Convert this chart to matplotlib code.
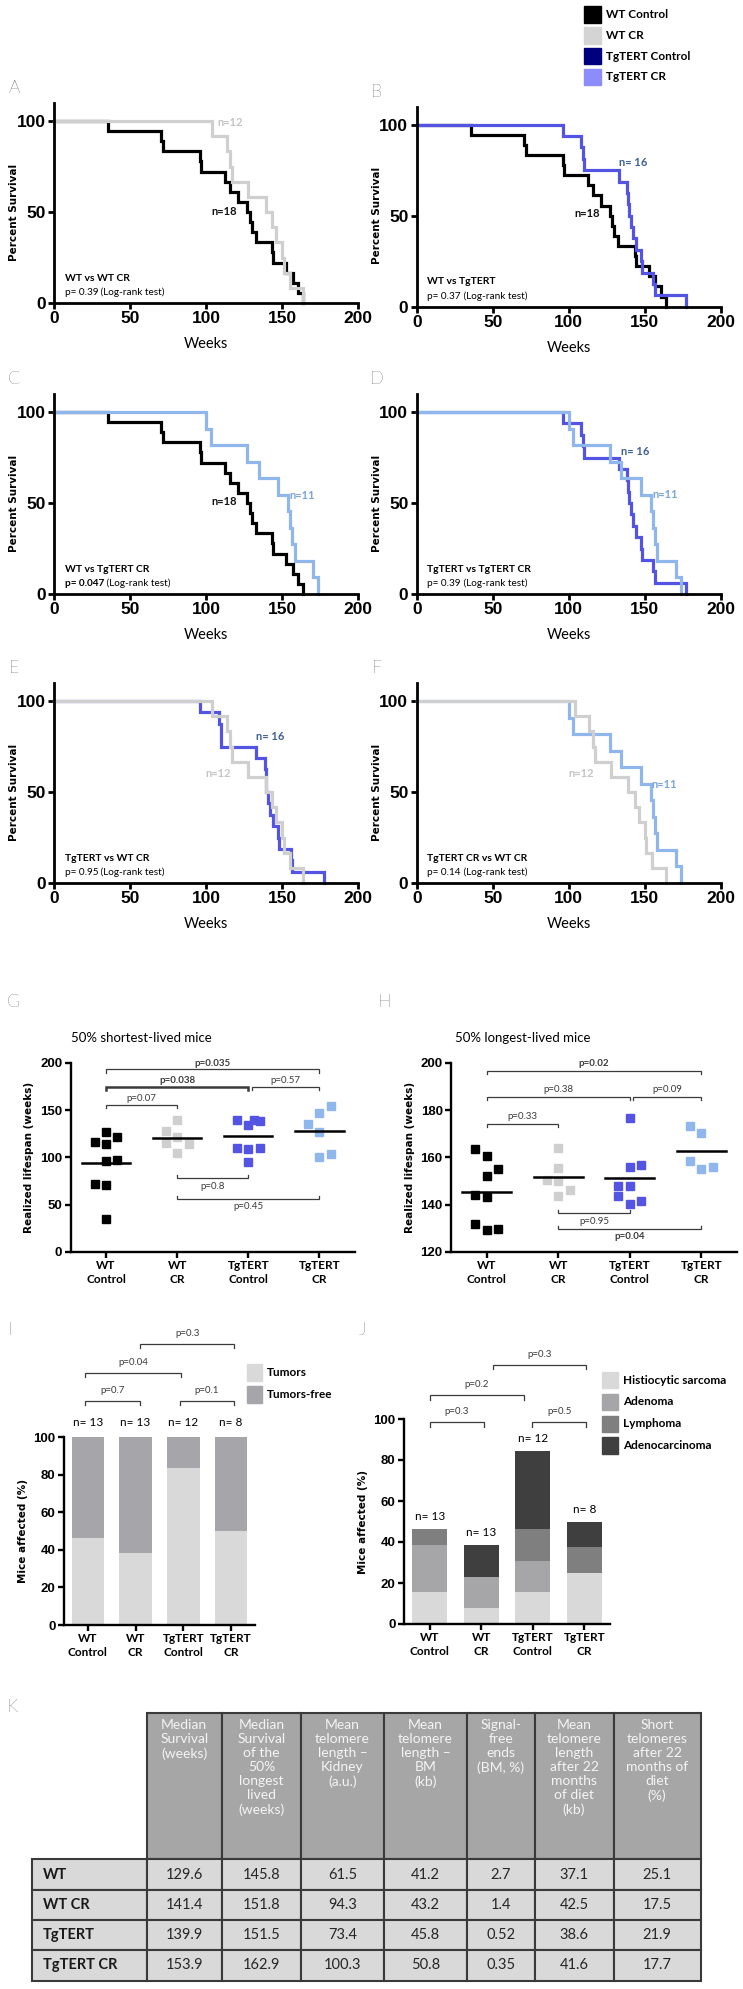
import matplotlib
matplotlib.use('Agg')
import numpy as np
import matplotlib.pyplot as plt
from matplotlib.patches import Rectangle

plt.rcParams['font.family'] = ['Liberation Sans', 'DejaVu Sans']
CAL = ['Lato', 'DejaVu Sans']
VER = ['DejaVu Sans']

# ---------------- data ----------------
# weeks at death, read off the Kaplan-Meier steps
wt_ctrl_weeks = [35.7, 70.3, 71.9, 96.0, 96.8, 112.4, 115.7, 121.0, 127.0,
                 128.8, 130.0, 132.7, 143.5, 144.0, 152.9, 157.0, 160.6, 163.9]
wt_cr_weeks = [104.0, 113.5, 116.0, 117.4, 127.7, 139.3, 143.5, 146.3,
               150.3, 151.0, 155.0, 164.0]
tg_ctrl_weeks = [96.0, 108.4, 109.6, 109.9, 133.0, 138.5, 139.3, 139.8, 141.0,
                 142.4, 144.0, 147.5, 148.0, 155.6, 156.5, 177.4]
tg_cr_weeks = [100.3, 103.0, 127.0, 134.7, 147.4, 154.0, 155.5, 156.6, 158.4,
               170.4, 173.7]

km_compare = ['WT vs WT CR', 'WT vs TgTERT', 'WT vs TgTERT CR',
              'TgTERT vs TgTERT CR', 'TgTERT vs WT CR', 'TgTERT CR vs WT CR']
km_pvals = ['p= 0.39', 'p= 0.37', 'p= 0.047', 'p= 0.39', 'p= 0.95', 'p= 0.14']

groups = ['WT\nControl', 'WT\nCR', 'TgTERT\nControl', 'TgTERT\nCR']

# G: 50% shortest-lived mice (weeks)
short_wt_ctrl = [127.2, 115.9, 113.8, 121.6, 96.0, 97.2, 71.7, 70.7, 35.3]
short_wt_cr = [139.6, 127.9, 121.2, 114.8, 113.8, 104.9]
short_tg_ctrl = [139.6, 134.3, 139.6, 138.9, 110.2, 108.5, 110.2, 95.4]
short_tg_cr = [154.4, 147.3, 135.3, 126.5, 100.0, 103.5]
# H: 50% longest-lived mice (weeks)
long_wt_ctrl = [163.6, 160.7, 155.1, 152.3, 143.9, 143.2, 131.7, 129.4, 129.8]
long_wt_cr = [163.8, 155.4, 150.5, 149.9, 146.0, 143.5]
long_tg_ctrl = [176.6, 155.8, 156.8, 147.7, 147.7, 143.5, 140.1, 141.5]
long_tg_cr = [173.4, 170.2, 158.4, 155.1, 156.1]

# I: tumour incidence (%)
n_mice = [13, 13, 12, 8]
tumors_pct = [46.2, 38.5, 83.3, 50.0]

# J: tumour types (%)
histio_pct = [15.4, 7.7, 15.4, 25.0]
adenoma_pct = [23.1, 15.4, 15.4, 0.0]
lymphoma_pct = [7.7, 0.0, 15.4, 12.5]
adenocarc_pct = [0.0, 15.4, 38.4, 12.5]

# K: table
tab_header = ['Median\nSurvival\n(weeks)',
              'Median\nSurvival\nof the\n50%\nlongest\nlived\n(weeks)',
              'Mean\ntelomere\nlength \u2013\nKidney\n(a.u.)',
              'Mean\ntelomere\nlength \u2013\nBM\n(kb)',
              'Signal-\nfree\nends\n(BM, %)',
              'Mean\ntelomere\nlength\nafter 22\nmonths\nof diet\n(kb)',
              'Short\ntelomeres\nafter 22\nmonths of\ndiet\n(%)']
tab_rows = ['WT', 'WT CR', 'TgTERT', 'TgTERT CR']
tab_vals = [['129.6', '145.8', '61.5', '41.2', '2.7', '37.1', '25.1'],
            ['141.4', '151.8', '94.3', '43.2', '1.4', '42.5', '17.5'],
            ['139.9', '151.5', '73.4', '45.8', '0.52', '38.6', '21.9'],
            ['153.9', '162.9', '100.3', '50.8', '0.35', '41.6', '17.7']]

# ---------------- styling ----------------
C_WT, C_WTCR, C_TG, C_TGCR = 'black', '#cfcfcf', '#5353e4', '#8fb7ec'
W, H = 743, 1989
fig = plt.figure(figsize=(W / 100, H / 100), dpi=100)

ov = fig.add_axes([0, 0, 1, 1])
ov.set_xlim(0, W)
ov.set_ylim(H, 0)
ov.axis('off')


def px_axes(x0, x1, ytop, ybot):
    return fig.add_axes([x0 / W, 1 - ybot / H, (x1 - x0) / W, (ybot - ytop) / H])


def style(ax, lw=2.0):
    for s in ['top', 'right']:
        ax.spines[s].set_visible(False)
    for s in ['left', 'bottom']:
        ax.spines[s].set_linewidth(lw)
    ax.patch.set_alpha(0)


def km(ax, weeks, color):
    t = sorted(weeks)
    n = len(t)
    xs = [0] + t
    ys = [100] + [100.0 * (n - i - 1) / n for i in range(n)]
    ax.step(xs, ys, where='post', color=color, lw=2.3, clip_on=False,
            solid_joinstyle='miter')


# ---------------- legend (top right) ----------------
for i, (lab, col) in enumerate(zip(['WT Control', 'WT CR', 'TgTERT Control', 'TgTERT CR'],
                                   ['black', '#d4d4d4', '#00007f', '#8c8cfc'])):
    yc = 14.5 + i * 20.8
    ov.add_patch(Rectangle((584, yc - 8.3), 16.5, 16.5, color=col))
    ov.text(606, yc, lab, family=CAL, weight='bold', fontsize=8.5, va='center')

# ---------------- Kaplan-Meier panels ----------------
series = {'WT': (wt_ctrl_weeks, C_WT), 'WTCR': (wt_cr_weeks, C_WTCR),
          'TG': (tg_ctrl_weeks, C_TG), 'TGCR': (tg_cr_weeks, C_TGCR)}
km_pairs = [('WT', 'WTCR'), ('WT', 'TG'), ('WT', 'TGCR'),
            ('TG', 'TGCR'), ('TG', 'WTCR'), ('TGCR', 'WTCR')]
n_labels = {'WT': ('n=18', '#111111'), 'WTCR': ('n=12', '#c4c4c4'),
            'TG': ('n= 16', '#3f5f95'), 'TGCR': ('n=11', '#79a4dd')}
n_pos = [{'WTCR': (116, 99), 'WT': (112, 50.5)},
         {'TG': (142.5, 79), 'WT': (112, 51.3)},
         {'WT': (112, 50.7), 'TGCR': (163, 54)},
         {'TG': (143.7, 78.2), 'TGCR': (163.4, 54.4)},
         {'TG': (142, 80.4), 'WTCR': (108, 60)},
         {'WTCR': (108.5, 60), 'TGCR': (163, 54)}]
letters = 'ABCDEF'
lefts = [54, 416.7]
bottoms = [303, 306.7, 594, 594, 883, 883]

for k in range(6):
    x0 = lefts[k % 2]
    yb = bottoms[k]
    ax = px_axes(x0, x0 + 304, yb - 200.2, yb)
    style(ax, 2.0)
    for key in km_pairs[k]:
        km(ax, *series[key])
    ax.set_xlim(0, 200)
    ax.set_ylim(0, 110)
    ax.set_xticks([0, 50, 100, 150, 200], labels=['0', '50', '100', '150', '200'],
                  fontweight='bold', fontsize=12.5)
    ax.set_yticks([0, 50, 100], labels=['0', '50', '100'], fontweight='bold', fontsize=12.5)
    ax.tick_params(width=2, length=4, pad=2)
    for key, (nx, ny) in n_pos[k].items():
        txt, col = n_labels[key]
        ax.text(nx, ny, txt, color=col, family=CAL, weight='bold', fontsize=8,
                ha='center', va='center')
    ax.text(7, 13.7, km_compare[k], family=CAL, weight='bold', fontsize=7.5, va='center')
    bold_p = km_pvals[k] == 'p= 0.047'
    t1 = ax.text(7, 5.5, km_pvals[k], family=CAL, fontsize=7.2, va='center',
                 weight='bold' if bold_p else 'normal')
    ax.annotate(' (Log-rank test)', xy=(1, 0), xycoords=t1, va='bottom',
                family=CAL, fontsize=7.2)
    ov.text(x0 - 40, yb - 91, 'Percent Survival', family=VER, weight='bold',
            fontsize=7.5, rotation=90, ha='center', va='center')
    ov.text(x0 + 152, yb + 41, 'Weeks', family=CAL, fontsize=10.5, ha='center', va='center')
    ov.text(x0 - 40, yb - 215, letters[k], family=CAL, weight='light', fontsize=13,
            ha='center', va='center')

# ---------------- G / H scatter panels ----------------
def bracket(ax, x0, x1, y, tick, label, ty, bold=False, lw=0.9):
    ax.plot([x0, x0, x1, x1], [y - tick, y, y, y - tick], color='#3a3a3a', lw=lw,
            clip_on=False, solid_joinstyle='miter')
    ax.text((x0 + x1) / 2, ty, label, ha='center', va='center', fontsize=7,
            family=CAL, weight='bold' if bold else 'normal', color='#3a3a3a')


cols4 = [C_WT, C_WTCR, C_TG, C_TGCR]
short_sets = [short_wt_ctrl, short_wt_cr, short_tg_ctrl, short_tg_cr]
long_sets = [long_wt_ctrl, long_wt_cr, long_tg_ctrl, long_tg_cr]
short_dx = [[0, -1, 0, 1, 0, 1, -1, 0, 0], [0, -1, 0, -1, 1, 0],
            [-1, 0, 0.5, 1, -1, 0, 1, 0], [1, 0, -1, 0, 0, 1]]
long_dx = [[-1, 0, 1, 0, -1, 0, -1, 0, 1], [0, 0, -1, 0, 1, 0],
           [0, 0, 1, -1, 0, -1, 0, 1], [-1, 0, -1, 0, 1]]

for panel in range(2):
    if panel == 0:
        ax = px_axes(70.5, 355, 1062.7, 1252)
        sets, dxs, ylim = short_sets, short_dx, (0, 200)
        yt = [0, 50, 100, 150, 200]
    else:
        ax = px_axes(451, 737, 1062.7, 1252)
        sets, dxs, ylim = long_sets, long_dx, (120, 200)
        yt = [120, 140, 160, 180, 200]
    style(ax, 1.7)
    for i, (vals, dx, col) in enumerate(zip(sets, dxs, cols4)):
        ax.plot([i + 1 + 0.16 * d for d in dx], vals, 's', color=col, ms=5.8,
                clip_on=False, zorder=3)
        ax.plot([i + 1 - 0.34, i + 1 + 0.34], [np.mean(vals)] * 2, color='black', lw=1.8, zorder=4)
    ax.set_xlim(0.5, 4.5)
    ax.set_ylim(*ylim)
    ax.set_xticks([1, 2, 3, 4], labels=groups, fontfamily=CAL, fontweight='bold',
                  fontsize=8.5, linespacing=1.25)
    ax.set_yticks(yt, labels=[str(v) for v in yt], fontweight='bold', fontsize=9.5)
    ax.tick_params(width=1.7, length=4, pad=2)
    ax.set_ylabel('Realized lifespan (weeks)', family=VER, weight='bold', fontsize=7.5,
                  labelpad=4)
    if panel == 0:
        bracket(ax, 1, 4, 193, 3.5, 'p=0.035', 199.5, bold=True)
        bracket(ax, 1, 3, 174.6, 3.5, 'p=0.038', 181.7, bold=True, lw=1.8)
        bracket(ax, 3.05, 4, 174.6, 3.5, 'p=0.57', 181.7)
        bracket(ax, 1, 2, 155.3, 3.5, 'p=0.07', 162.5)
        bracket(ax, 2, 3, 77.8, -3.5, 'p=0.8', 69.7)
        bracket(ax, 2, 4, 56, -3.5, 'p=0.45', 47.9)
        ax.set_title('50% shortest-lived mice', family=CAL, fontsize=9.5, x=0.25, pad=15)
        ov.text(13, 1002, 'G', family=CAL, weight='light', fontsize=13, ha='center', va='center')
    else:
        bracket(ax, 1, 4, 196.6, 1.4, 'p=0.02', 199.7, bold=True)
        bracket(ax, 1, 3, 185.6, 1.4, 'p=0.38', 188.6)
        bracket(ax, 3.05, 4, 185.6, 1.4, 'p=0.09', 188.6)
        bracket(ax, 1, 2, 174.1, 1.4, 'p=0.33', 177.1)
        bracket(ax, 2, 3, 136.4, -1.4, 'p=0.95', 133.1)
        bracket(ax, 2, 4, 129.6, -1.4, 'p=0.04', 126.5, bold=True)
        ax.set_title('50% longest-lived mice', family=CAL, fontsize=9.5, x=0.25, pad=15)
        ov.text(385, 1002, 'H', family=CAL, weight='light', fontsize=13, ha='center', va='center')

# ---------------- I: tumour incidence ----------------
axi = px_axes(64, 255, 1437, 1625)
style(axi, 1.7)
xb = np.arange(4)
tumor_free = [100 - v for v in tumors_pct]
axi.bar(xb, tumors_pct, width=0.68, color='#d9d9d9')
axi.bar(xb, tumor_free, bottom=tumors_pct, width=0.68, color='#a5a5aa')
for i in range(4):
    axi.text(i, 107.8, 'n= %d' % n_mice[i], family=CAL, fontsize=8.5, ha='center', va='center')
axi.set_xlim(-0.5, 3.5)
axi.set_ylim(0, 100)
axi.set_xticks(xb, labels=groups, fontfamily=CAL, fontweight='bold', fontsize=8.5,
               linespacing=1.25)
axi.set_yticks([0, 20, 40, 60, 80, 100], labels=['0', '20', '40', '60', '80', '100'],
               fontweight='bold', fontsize=9.5)
axi.tick_params(width=1.7, length=4, pad=2)
axi.set_ylabel('Mice affected (%)', family=VER, weight='bold', fontsize=7.5, labelpad=4)
bracket(axi, -0.05, 1.1, 119.3, 2.3, 'p=0.7', 124.6)
bracket(axi, 1.92, 3.07, 119.3, 2.3, 'p=0.1', 124.6)
bracket(axi, -0.05, 1.94, 134, 2.3, 'p=0.04', 139.4)
bracket(axi, 1.1, 3.07, 149.5, 2.3, 'p=0.3', 155)
for i, (lab, col) in enumerate(zip(['Tumors', 'Tumors-free'], ['#d9d9d9', '#a5a5aa'])):
    yc = 1372.7 + i * 21.6
    ov.add_patch(Rectangle((246.6, yc - 8.3), 15.5, 16.5, color=col))
    ov.text(266.6, yc, lab, family=CAL, weight='bold', fontsize=8.5, va='center')
ov.text(10, 1330, 'I', family=CAL, weight='light', fontsize=13, ha='center', va='center')

# ---------------- J: tumour types ----------------
axj = px_axes(404, 610, 1419, 1624)
style(axj, 1.7)
stack_vals = [histio_pct, adenoma_pct, lymphoma_pct, adenocarc_pct]
stack_cols = ['#d9d9d9', '#a6a6a9', '#7f7f7f', '#3f3f3f']
stack_labs = ['Histiocytic sarcoma', 'Adenoma', 'Lymphoma', 'Adenocarcinoma']
bottom = np.zeros(4)
for vals, col in zip(stack_vals, stack_cols):
    axj.bar(xb, vals, bottom=bottom, width=0.68, color=col)
    bottom = bottom + np.array(vals)
for i in range(4):
    axj.text(i, bottom[i] + 6, 'n= %d' % n_mice[i], family=CAL, fontsize=8.5,
             ha='center', va='center')
axj.set_xlim(-0.5, 3.5)
axj.set_ylim(0, 100)
axj.set_xticks(xb, labels=groups, fontfamily=CAL, fontweight='bold', fontsize=8.5,
               linespacing=1.25)
axj.set_yticks([0, 20, 40, 60, 80, 100], labels=['0', '20', '40', '60', '80', '100'],
               fontweight='bold', fontsize=9.5)
axj.tick_params(width=1.7, length=4, pad=2)
axj.set_ylabel('Mice affected (%)', family=VER, weight='bold', fontsize=7.5, labelpad=4)
bracket(axj, 0, 1.05, 98.4, 2.2, 'p=0.3', 103.5)
bracket(axj, 1.99, 3.04, 98.4, 2.2, 'p=0.5', 103.5)
bracket(axj, 0, 1.83, 111.7, 2.2, 'p=0.2', 117)
bracket(axj, 1.22, 3.04, 126.5, 2.2, 'p=0.3', 131.7)
for i, (lab, col) in enumerate(zip(stack_labs, stack_cols)):
    yc = 1380 + i * 21.9
    ov.add_patch(Rectangle((602, yc - 8.3), 15.5, 16.5, color=col))
    ov.text(622.6, yc, lab, family=CAL, weight='bold', fontsize=8.5, va='center')
ov.text(362, 1330, 'J', family=CAL, weight='light', fontsize=13, ha='center', va='center')

# ---------------- K: table ----------------
col_edges = [32, 146.6, 222, 301, 384, 467, 534.6, 613.6, 700.7]
row_edges = [1713, 1859.3, 1890, 1920, 1950, 1980.7]
edge = '#3a3a3a'
for j in range(7):
    xa, xbb = col_edges[j + 1], col_edges[j + 2]
    ov.add_patch(Rectangle((xa, row_edges[0]), xbb - xa, row_edges[1] - row_edges[0],
                           facecolor='#a6a6a6', edgecolor=edge, lw=1.5))
    ov.text((xa + xbb) / 2, row_edges[0] + 6, tab_header[j], family=CAL, fontsize=10,
            color='#f4f4f4', ha='center', va='top', linespacing=1.2)
for r in range(4):
    ya, yb2 = row_edges[r + 1], row_edges[r + 2]
    for j in range(8):
        xa, xbb = col_edges[j], col_edges[j + 1]
        ov.add_patch(Rectangle((xa, ya), xbb - xa, yb2 - ya, facecolor='#d9d9d9',
                               edgecolor=edge, lw=1.5))
    ov.text(43, (ya + yb2) / 2, tab_rows[r], family=CAL, weight='bold', fontsize=10.5,
            color='#1a1a1a', va='center')
    for j in range(7):
        xa, xbb = col_edges[j + 1], col_edges[j + 2]
        ov.text((xa + xbb) / 2, (ya + yb2) / 2, tab_vals[r][j], family=CAL, fontsize=10.5,
                color='#262626', ha='center', va='center')
ov.text(12, 1707, 'K', family=CAL, weight='light', fontsize=13, ha='center', va='center')

fig.savefig('out.png', dpi=100)
